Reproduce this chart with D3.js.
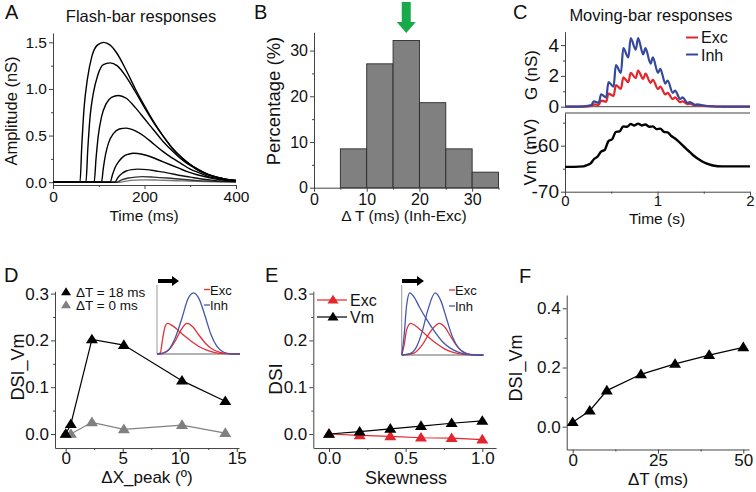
<!DOCTYPE html>
<html><head><meta charset="utf-8">
<script src="https://cdn.jsdelivr.net/npm/d3@7"></script>
<style>body{margin:0;background:#fff} svg text{font-family:"Liberation Sans",Arial,sans-serif}</style>
</head><body><svg id="c" width="756" height="492"></svg>
<script>
// ---------- DATA ----------
// Panel A: flash-bar responses, [time ms, amplitude nS]
const flash1 = [[0,0],[59,0],[63,0.4],[68,0.8],[75,1.1],[85,1.35],[97,1.47],[111,1.5],[125,1.47],[140,1.38],[160,1.2],[180,1.0],[200,0.82],[220,0.65],[240,0.5],[260,0.37],[280,0.27],[300,0.19],[320,0.13],[340,0.08],[360,0.05],[380,0.03],[400,0.02]];
const flash2 = [[0,0],[72,0],[76,0.35],[81,0.7],[88,0.95],[98,1.15],[110,1.26],[125,1.28],[140,1.25],[160,1.13],[180,0.97],[200,0.8],[220,0.64],[240,0.5],[260,0.37],[280,0.27],[300,0.19],[320,0.13],[340,0.08],[360,0.05],[380,0.03],[400,0.02]];
const flash3 = [[0,0],[90,0],[94,0.25],[99,0.5],[106,0.7],[116,0.84],[128,0.91],[143,0.93],[160,0.9],[180,0.8],[200,0.68],[220,0.56],[240,0.44],[260,0.34],[280,0.25],[300,0.18],[320,0.12],[340,0.08],[360,0.05],[380,0.03],[400,0.02]];
const flash4 = [[0,0],[106,0],[110,0.15],[115,0.3],[122,0.43],[132,0.52],[145,0.57],[160,0.58],[180,0.55],[200,0.49],[220,0.41],[240,0.33],[260,0.26],[280,0.2],[300,0.14],[320,0.1],[340,0.06],[360,0.04],[380,0.025],[400,0.015]];
const flash5 = [[0,0],[125,0],[130,0.08],[136,0.16],[145,0.23],[155,0.28],[165,0.3],[176,0.31],[195,0.3],[215,0.27],[235,0.23],[255,0.19],[275,0.15],[295,0.11],[315,0.08],[340,0.05],[360,0.03],[380,0.02],[400,0.01]];
const flash6 = [[0,0],[135,0],[142,0.05],[150,0.09],[160,0.12],[172,0.135],[185,0.14],[205,0.135],[225,0.12],[250,0.1],[275,0.075],[300,0.055],[325,0.035],[350,0.02],[375,0.012],[400,0.008]];
const flash7 = [[0,0],[140,0],[150,0.025],[165,0.045],[180,0.055],[195,0.06],[220,0.055],[250,0.045],[280,0.032],[310,0.02],[340,0.012],[370,0.007],[400,0.004]];
const flash8 = [[0,0],[145,0],[160,0.012],[180,0.022],[200,0.025],[230,0.022],[270,0.016],[310,0.01],[350,0.005],[400,0.002]];
const flashCurves = [flash1,flash2,flash3,flash4,flash5,flash6,flash7,flash8];
const flashColors = ["#000","#000","#000","#000","#000","#111","#333","#777"];

// Panel B: histogram of ΔT
const binStart = [5,10,15,20,25,30];
const binWidth = 5;
const binPct = [8.5,27.1,32.2,18.6,8.5,3.4];
const meanDT = 17.5;

// Panel C: moving-bar responses
const cT   = [0,0.1,0.2,0.285,0.31,0.365,0.39,0.445,0.47,0.525,0.55,0.605,0.63,0.685,0.71,0.765,0.79,0.845,0.87,0.925,0.95,1.005,1.03,1.085,1.11,1.165,1.19,1.245,1.27,1.325,1.35,1.405,1.43,1.5,1.6,1.7,1.8,2.0];
const cInh = [0,0,0.02,0.1,0.35,0.25,0.8,0.6,1.6,1.3,2.7,2.2,3.8,3.2,4.45,3.7,4.45,3.4,3.8,2.8,3.2,2.2,2.45,1.5,1.7,0.9,1.05,0.5,0.6,0.25,0.3,0.12,0.15,0.08,0.03,0.01,0,0];
const cExc = [0,0,0.01,0.05,0.15,0.12,0.4,0.32,0.85,0.7,1.4,1.15,1.9,1.6,2.2,1.85,2.35,1.8,2.15,1.55,1.75,1.15,1.3,0.8,0.9,0.5,0.6,0.3,0.35,0.17,0.2,0.08,0.1,0.05,0.02,0.005,0,0];
const vmT  = [0,0.1,0.2,0.24,0.28,0.31,0.35,0.39,0.43,0.47,0.51,0.55,0.59,0.63,0.67,0.71,0.75,0.79,0.83,0.87,0.91,0.95,0.99,1.03,1.07,1.11,1.15,1.2,1.25,1.3,1.35,1.4,1.45,1.5,1.55,1.6,1.7,2.0];
const vm   = [-64.6,-64.6,-64.5,-64.2,-63.8,-63.0,-62.4,-61.3,-60.9,-59.0,-58.6,-57.0,-56.9,-55.8,-55.9,-55.3,-55.6,-55.2,-55.6,-55.4,-55.9,-55.8,-56.4,-56.3,-57.0,-57.1,-57.9,-58.6,-59.5,-60.5,-61.4,-62.3,-63.0,-63.6,-64.0,-64.3,-64.5,-64.5];

// Panel D
const dX = [0,0.45,2.3,5.1,10.2,14.0];
const dDT18 = [0.0,0.021,0.202,0.19,0.114,0.07];
const dDT0  = [0.0,0.0,0.025,0.01,0.019,0.002];
const insDInh  = [[0,0],[0.07,0.01],[0.15,0.08],[0.22,0.25],[0.3,0.55],[0.37,0.84],[0.44,0.94],[0.51,0.84],[0.58,0.58],[0.65,0.3],[0.72,0.12],[0.8,0.03],[0.88,0],[1,0]];
const insDExcS = [[0,0],[0.06,0.01],[0.14,0.06],[0.22,0.2],[0.29,0.37],[0.36,0.47],[0.43,0.42],[0.5,0.3],[0.58,0.17],[0.66,0.08],[0.75,0.03],[0.85,0.01],[1,0]];
const insDExcK = [[0,0],[0.04,0.02],[0.07,0.25],[0.1,0.43],[0.13,0.47],[0.18,0.44],[0.25,0.37],[0.33,0.28],[0.42,0.19],[0.5,0.12],[0.6,0.06],[0.7,0.02],[0.8,0.005],[1,0]];

// Panel E
const eX = [0,0.2,0.4,0.6,0.8,1.0];
const eExc = [0,-0.003,-0.005,-0.008,-0.009,-0.012];
const eVm  = [0,0.005,0.011,0.017,0.023,0.028];
const insEInhK = [[0,0],[0.03,0.3],[0.06,0.75],[0.1,0.94],[0.15,0.88],[0.22,0.72],[0.3,0.55],[0.4,0.36],[0.5,0.2],[0.6,0.1],[0.7,0.04],[0.8,0.01],[1,0]];
const insEInhS = [[0,0],[0.1,0.02],[0.18,0.12],[0.25,0.35],[0.32,0.68],[0.41,0.94],[0.48,0.82],[0.55,0.55],[0.62,0.28],[0.7,0.1],[0.78,0.03],[0.88,0],[1,0]];
const insEExcK = [[0,0],[0.03,0.15],[0.06,0.38],[0.11,0.48],[0.16,0.45],[0.24,0.37],[0.33,0.27],[0.43,0.17],[0.53,0.09],[0.63,0.04],[0.75,0.01],[1,0]];
const insEExcS = [[0,0],[0.15,0.03],[0.25,0.15],[0.35,0.35],[0.46,0.48],[0.53,0.42],[0.6,0.28],[0.68,0.13],[0.76,0.04],[0.85,0.01],[1,0]];

// Panel F
const fDT = [0,5,10,20,30,40,50];
const fDSI = [0.015,0.054,0.122,0.177,0.212,0.242,0.268];

// ---------- DRAW ----------
const svg = d3.select("#c");
const FONT = '"Liberation Sans",Arial,sans-serif';
const RED = "#e3262d", BLUE = "#34489c";

function axis(orient, scale, tx, ty, majors, labels, minors, fs, pad) {
  fs = fs || 15;
  const mk = orient === "left" ? d3.axisLeft : d3.axisBottom;
  const g = svg.append("g").attr("transform", `translate(${tx},${ty})`)
    .call(mk(scale).tickValues(majors).tickFormat((d,i)=>labels[i]).tickSize(4).tickSizeOuter(0).tickPadding(pad == null ? 2 : pad));
  g.attr("font-family", FONT);
  g.select(".domain").attr("stroke", "#444");
  g.selectAll(".tick line").attr("stroke", "#444");
  g.selectAll(".tick text").attr("font-size", fs).attr("fill", "#111");
  if (minors && minors.length) {
    const gm = svg.append("g").attr("transform", `translate(${tx},${ty})`)
      .call(mk(scale).tickValues(minors).tickFormat("").tickSize(2).tickSizeOuter(0));
    gm.select(".domain").remove();
    gm.selectAll(".tick line").attr("stroke", "#444");
  }
  return g;
}
function text(x, y, s, opts) {
  opts = opts || {};
  const t = svg.append("text").attr("x", x).attr("y", y).text(s)
    .attr("font-size", opts.fs || 15).attr("fill", opts.fill || "#111")
    .attr("text-anchor", opts.anchor || "middle");
  if (opts.rot) t.attr("transform", `rotate(-90,${x},${y})`);
  return t;
}
function tri(x, y, fill, w) {
  w = w || 12;
  const h = w * 0.8;
  svg.append("path").attr("d", `M${x},${y - h*0.6}L${x + w/2},${y + h*0.4}L${x - w/2},${y + h*0.4}Z`).attr("fill", fill);
}
function arrowRight(x0, x1, y) {
  svg.append("path").attr("d", `M${x0},${y-2}L${x1-7},${y-2}L${x1-7},${y-5}L${x1},${y}L${x1-7},${y+5}L${x1-7},${y+2}L${x0},${y+2}Z`).attr("fill", "#000");
}

// ----- Panel A -----
{
  const x = d3.scaleLinear().domain([0,400]).range([53,236]);
  const y = d3.scaleLinear().domain([-0.03,1.6]).range([185,33]);
  axis("left", y, 53, 0, [0,0.5,1,1.5], ["0.0","0.5","1.0","1.5"], [0.25,0.75,1.25], 15.5);
  axis("bottom", x, 0, 185, [0,200,400], ["0","200","400"], [100,300], 15.5);
  const line = d3.line().x(d=>x(d[0])).y(d=>y(d[1])).curve(d3.curveMonotoneX);
  flashCurves.slice().reverse().forEach((c,i)=>{
    const idx = flashCurves.length-1-i;
    svg.append("path").attr("d", line(c)).attr("fill","none").attr("stroke", flashColors[idx]).attr("stroke-width",1.4);
  });
  text(5, 19, "A", {fs:20, anchor:"start"});
  text(141, 22, "Flash-bar responses", {fs:16.5});
  text(17, 111, "Amplitude (nS)", {fs:16.5, rot:true});
  text(144, 221, "Time (ms)", {fs:15.5});
}

// ----- Panel B -----
{
  const x = d3.scaleLinear().domain([0,35]).range([314,498.5]);
  const y = d3.scaleLinear().domain([0,34]).range([187.7,32.3]);
  svg.append("g").selectAll("rect").data(binStart).join("rect")
    .attr("x", d=>x(d)).attr("width", d=>x(d+binWidth)-x(d))
    .attr("y", (d,i)=>y(binPct[i])).attr("height", (d,i)=>y(0)-y(binPct[i]))
    .attr("fill","#808080").attr("stroke","#2a2a2a").attr("stroke-width",0.9);
  axis("left", y, 314, 0, [0,10,20,30], ["0","10","20","30"], [5,15,25], 16);
  axis("bottom", x, 0, 187.7, [0,10,20,30], ["0","10","20","30"], [5,15,25,35], 16);
  const ax = x(meanDT);
  svg.append("path").attr("d", `M${ax-4.5},2L${ax+4.5},2L${ax+4.5},22L${ax+9.5},22L${ax},33L${ax-9.5},22L${ax-4.5},22Z`).attr("fill","#17a94a");
  text(254, 19, "B", {fs:20, anchor:"start"});
  text(280, 101, "Percentage (%)", {fs:18.5, rot:true});
  text(404, 221, "\u0394 T (ms) (Inh-Exc)", {fs:15.5});
}

// ----- Panel C -----
{
  const x = d3.scaleLinear().domain([0,2]).range([565,750]);
  const yG = d3.scaleLinear().domain([0,4.87]).range([106.7,31.7]);
  const yV = d3.scaleLinear().domain([-70,-52.9]).range([191.7,113]);
  axis("left", yG, 565, 0, [0,2,4], ["0","2","4"], [1,3], 19);
  svg.append("line").attr("x1",565).attr("x2",750).attr("y1",yG(0)).attr("y2",yG(0)).attr("stroke","#444");
  axis("left", yV, 565, 0, [-70,-60], ["-70","-60"], [-65,-55], 19);
  svg.append("line").attr("x1",565).attr("x2",750).attr("y1",113).attr("y2",113).attr("stroke","#444");
  axis("bottom", x, 0, 191.7, [0,1,2], ["0","1","2"], [0.5,1.5], 15, 0);
  const lg = d3.line().curve(d3.curveMonotoneX);
  svg.append("path").attr("d", lg(cT.map((t,i)=>[x(t), yG(cExc[i])]))).attr("fill","none").attr("stroke",RED).attr("stroke-width",2.2);
  svg.append("path").attr("d", lg(cT.map((t,i)=>[x(t), yG(cInh[i])]))).attr("fill","none").attr("stroke",BLUE).attr("stroke-width",2.2);
  svg.append("path").attr("d", lg(vmT.map((t,i)=>[x(t), yV(vm[i])]))).attr("fill","none").attr("stroke","#000").attr("stroke-width",2.4);
  svg.append("line").attr("x1",686).attr("x2",698).attr("y1",37.5).attr("y2",37.5).attr("stroke",RED).attr("stroke-width",2);
  text(701, 43, "Exc", {fs:16, anchor:"start"});
  svg.append("line").attr("x1",686).attr("x2",698).attr("y1",54.5).attr("y2",54.5).attr("stroke",BLUE).attr("stroke-width",2);
  text(701, 60.5, "Inh", {fs:16, anchor:"start"});
  text(513, 19, "C", {fs:20, anchor:"start"});
  text(651, 21, "Moving-bar responses", {fs:16.5});
  text(537, 75, "G (nS)", {fs:17, rot:true});
  text(536, 152, "Vm (mV)", {fs:17, rot:true});
  text(657, 224, "Time (s)", {fs:15.5});
}

function inset(x0, x1, yb, yt, curves) {
  const x = d3.scaleLinear().domain([0,1]).range([x0,x1]);
  const y = d3.scaleLinear().domain([0,1]).range([yb,yt]);
  svg.append("line").attr("x1",x0).attr("x2",x0).attr("y1",yt-4).attr("y2",yb).attr("stroke","#999").attr("stroke-width",1);
  svg.append("line").attr("x1",x0).attr("x2",x1).attr("y1",yb).attr("y2",yb).attr("stroke","#999").attr("stroke-width",1.3);
  const l = d3.line().x(d=>x(d[0])).y(d=>y(d[1])).curve(d3.curveMonotoneX);
  curves.forEach(c=>svg.append("path").attr("d", l(c.d)).attr("fill","none").attr("stroke",c.c).attr("stroke-width",1.3));
}
const IRED = "#e0313a", IBLUE = "#4557a8";

// ----- Panel D -----
{
  const x = d3.scaleLinear().domain([0,15]).range([65.7,236.7]);
  const y = d3.scaleLinear().domain([0,0.3]).range([434,293.6]);
  const xa = d3.scaleLinear().domain([-0.94,15.2]).range([55,239]);
  axis("left", d3.scaleLinear().domain([-0.03,0.305]).range([y(-0.03),y(0.305)]), 55, 0, [0,0.1,0.2,0.3], ["0.0","0.1","0.2","0.3"], [0.05,0.15,0.25], 17);
  axis("bottom", xa, 0, y(-0.03), [0,5,10,15], ["0","5","10","15"], [2.5,7.5,12.5], 17, 0);
  const l = d3.line();
  svg.append("path").attr("d", l(dX.map((v,i)=>[x(v), y(dDT0[i])]))).attr("fill","none").attr("stroke","#808080").attr("stroke-width",1.2);
  svg.append("path").attr("d", l(dX.map((v,i)=>[x(v), y(dDT18[i])]))).attr("fill","none").attr("stroke","#000").attr("stroke-width",1.2);
  dX.forEach((v,i)=>tri(x(v), y(dDT0[i]), "#808080"));
  dX.forEach((v,i)=>tri(x(v), y(dDT18[i]), "#000"));
  tri(66, 292, "#000", 10); text(76, 296.5, "\u0394T = 18 ms", {fs:13.5, anchor:"start"});
  tri(66, 305, "#808080", 10); text(76, 310, "\u0394T = 0 ms", {fs:13.5, anchor:"start"});
  inset(157, 240, 354, 289, [{d:insDExcS,c:IRED},{d:insDExcK,c:IRED},{d:insDInh,c:IBLUE}]);
  arrowRight(158, 179, 281);
  svg.append("line").attr("x1",204).attr("x2",210).attr("y1",289.5).attr("y2",289.5).attr("stroke",IRED).attr("stroke-width",1.3);
  text(210, 294.5, "Exc", {fs:13, anchor:"start"});
  svg.append("line").attr("x1",204).attr("x2",210).attr("y1",305).attr("y2",305).attr("stroke",IBLUE).attr("stroke-width",1.3);
  text(210, 310, "Inh", {fs:13, anchor:"start"});
  text(4, 282, "D", {fs:20, anchor:"start"});
  text(24, 367, "DSI_Vm", {fs:18, rot:true});
  text(147, 483, "\u0394X_peak (\u00ba)", {fs:17});
}

// ----- Panel E -----
{
  const x = d3.scaleLinear().domain([0,1]).range([329,482.3]);
  const y = d3.scaleLinear().domain([0,0.3]).range([434,293.6]);
  axis("left", d3.scaleLinear().domain([-0.03,0.305]).range([y(-0.03),y(0.305)]), 313.3, 0, [0,0.1,0.2,0.3], ["0.0","0.1","0.2","0.3"], [0.05,0.15,0.25], 17);
  axis("bottom", d3.scaleLinear().domain([-0.1,1.09]).range([x(-0.1),x(1.09)]), 0, y(-0.03), [0,0.5,1], ["0.0","0.5","1.0"], [0.25,0.75], 17, 0);
  const l = d3.line();
  svg.append("path").attr("d", l(eX.map((v,i)=>[x(v), y(eExc[i])]))).attr("fill","none").attr("stroke",RED).attr("stroke-width",1.2);
  svg.append("path").attr("d", l(eX.map((v,i)=>[x(v), y(eVm[i])]))).attr("fill","none").attr("stroke","#000").attr("stroke-width",1.2);
  eX.forEach((v,i)=>tri(x(v), y(eExc[i]), RED));
  eX.forEach((v,i)=>tri(x(v), y(eVm[i]), "#000"));
  svg.append("line").attr("x1",317).attr("x2",347).attr("y1",300).attr("y2",300).attr("stroke",RED).attr("stroke-width",1.2);
  tri(333, 300, RED, 11); text(350, 305.5, "Exc", {fs:16, anchor:"start"});
  svg.append("line").attr("x1",317).attr("x2",347).attr("y1",317).attr("y2",317).attr("stroke","#000").attr("stroke-width",1.2);
  tri(333, 317, "#000", 11); text(350, 322.5, "Vm", {fs:16, anchor:"start"});
  inset(401.7, 483.3, 355, 289, [{d:insEExcS,c:IRED},{d:insEExcK,c:IRED},{d:insEInhK,c:IBLUE},{d:insEInhS,c:IBLUE}]);
  arrowRight(402, 424, 281);
  svg.append("line").attr("x1",449).attr("x2",455).attr("y1",290).attr("y2",290).attr("stroke",IRED).attr("stroke-width",1.3);
  text(455, 294.5, "Exc", {fs:13, anchor:"start"});
  svg.append("line").attr("x1",449).attr("x2",455).attr("y1",306).attr("y2",306).attr("stroke",IBLUE).attr("stroke-width",1.3);
  text(455, 310.5, "Inh", {fs:13, anchor:"start"});
  text(265, 282, "E", {fs:20, anchor:"start"});
  text(282, 379, "DSI", {fs:19, rot:true});
  text(406, 484, "Skewness", {fs:18});
}

// ----- Panel F -----
{
  const x = d3.scaleLinear().domain([0,50]).range([572.7,743.3]);
  const y = d3.scaleLinear().domain([0,0.4]).range([426.7,308.3]);
  axis("left", d3.scaleLinear().domain([-0.077,0.445]).range([y(-0.077),y(0.445)]), 566.7, 0, [0,0.2,0.4], ["0.0","0.2","0.4"], [0.1,0.3], 17);
  axis("bottom", d3.scaleLinear().domain([-1.76,51.7]).range([x(-1.76),x(51.7)]), 0, y(-0.077), [0,25,50], ["0","25","50"], [12.5,37.5], 17, 0);
  svg.append("path").attr("d", d3.line()(fDT.map((v,i)=>[x(v), y(fDSI[i])]))).attr("fill","none").attr("stroke","#000").attr("stroke-width",1.2);
  fDT.forEach((v,i)=>tri(x(v), y(fDSI[i]), "#000"));
  text(519, 283, "F", {fs:20, anchor:"start"});
  text(522, 368, "DSI_Vm", {fs:18, rot:true});
  text(658, 485, "\u0394T (ms)", {fs:17});
}
</script></body></html>
